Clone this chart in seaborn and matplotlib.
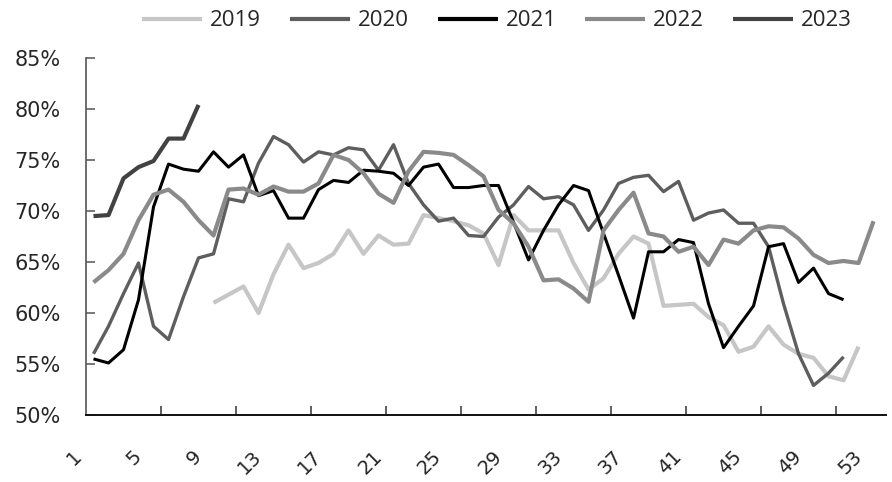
import numpy as np
import pandas as pd
import matplotlib.pyplot as plt
import matplotlib.transforms as mtransforms
import seaborn as sns


# weekly values, %
years = ['2019', '2020', '2021', '2022', '2023']
first_week = [9, 1, 1, 1, 1]

rate_2019 = [61.0, 61.8, 62.6, 60.0, 63.8, 66.7, 64.4, 64.9, 65.8, 68.1,
             65.8, 67.6, 66.7, 66.8, 69.6, 69.3, 69.0, 68.6, 67.8, 64.7,
             69.6, 68.1, 68.1, 68.1, 64.9, 62.3, 63.4, 65.8, 67.5, 66.8,
             60.7, 60.8, 60.9, 59.6, 58.8, 56.2, 56.7, 58.7, 56.9, 56.0,
             55.6, 53.8, 53.4, 56.7]
rate_2020 = [56.0, 58.7, 61.9, 64.9, 58.7, 57.4, 61.6, 65.4, 65.8, 71.2,
             70.9, 74.7, 77.3, 76.5, 74.8, 75.8, 75.5, 76.2, 76.0, 74.0,
             76.5, 72.7, 70.6, 69.0, 69.3, 67.6, 67.5, 69.4, 70.6, 72.4,
             71.2, 71.4, 70.6, 68.1, 70.1, 72.7, 73.3, 73.5, 71.9, 72.9,
             69.1, 69.8, 70.1, 68.8, 68.8, 66.5, 60.9, 56.0, 52.9, 54.1,
             55.7]
rate_2021 = [55.5, 55.1, 56.4, 61.3, 70.4, 74.6, 74.1, 73.9, 75.8, 74.3,
             75.5, 71.5, 72.0, 69.3, 69.3, 72.1, 73.0, 72.8, 74.0, 73.9,
             73.7, 72.5, 74.3, 74.6, 72.3, 72.3, 72.5, 72.5, 68.9, 65.2,
             68.1, 70.6, 72.5, 72.0, 67.8, 63.7, 59.5, 66.0, 66.0, 67.2,
             66.9, 60.9, 56.6, 58.7, 60.7, 66.5, 66.8, 63.0, 64.4, 61.9,
             61.3]
rate_2022 = [63.0, 64.2, 65.8, 69.1, 71.6, 72.1, 70.9, 69.1, 67.6, 72.1,
             72.2, 71.6, 72.4, 71.9, 71.9, 72.7, 75.5, 75.0, 73.7, 71.7,
             70.8, 73.9, 75.8, 75.7, 75.5, 74.5, 73.4, 70.1, 68.8, 66.5,
             63.2, 63.3, 62.4, 61.1, 68.1, 70.1, 71.8, 67.8, 67.5, 66.0,
             66.5, 64.7, 67.2, 66.8, 68.1, 68.5, 68.4, 67.3, 65.7, 64.9,
             65.1, 64.9, 69.0]
rate_2023 = [69.5, 69.6, 73.2, 74.3, 74.9, 77.1, 77.1, 80.4]

tick_weeks = list(range(1, 54, 4))
y_ticks = [50, 55, 60, 65, 70, 75, 80, 85]

series = [rate_2019, rate_2020, rate_2021, rate_2022, rate_2023]
colors = ['#c6c6c6', '#5e5e5e', '#000000', '#8a8a8a', '#424242']
widths = [3.0, 2.4, 2.2, 3.0, 3.0]

sns.set_style('white')
plt.rcParams['font.family'] = ['DejaVu Sans']

fig, ax = plt.subplots(figsize=(8.92, 4.82), dpi=100)
fig.subplots_adjust(left=86 / 892, right=886 / 892, top=1 - 58 / 482, bottom=1 - 415 / 482)

for yr, start, vals, c, w in zip(years, first_week, series, colors, widths):
    weeks = list(range(start, start + len(vals)))
    sns.lineplot(x=weeks, y=vals, color=c, lw=w, label=yr, ax=ax,
                 solid_joinstyle='round', solid_capstyle='butt')

ax.set_xlim(0.5, 53.83)
ax.set_ylim(50, 85)
ax.set_yticks(y_ticks)
ax.set_yticklabels([f'{v}%' for v in y_ticks])
ax.set_xticks(tick_weeks)
ax.set_xticklabels([str(t) for t in tick_weeks])
ax.set_xticks([5.5 + 5 * k for k in range(10)], minor=True)
ax.set_xlabel('')
ax.set_ylabel('')

for s in ['top', 'right']:
    ax.spines[s].set_visible(False)
ax.spines['left'].set_color('#555555')
ax.spines['bottom'].set_color('#111111')
ax.spines['left'].set_linewidth(1.2)
ax.spines['bottom'].set_linewidth(1.4)

ax.tick_params(axis='y', left=True, direction='in', length=6.5, width=1.1,
               color='#555555', pad=18, labelsize=15)
ax.tick_params(axis='x', which='major', bottom=True, length=0, pad=23, labelsize=14)
ax.tick_params(axis='x', which='minor', bottom=True, direction='in', length=6.5,
               width=1.1, color='#333333')

shift = mtransforms.ScaledTranslation(-8 / 100, 0, fig.dpi_scale_trans)
for lab in ax.get_xticklabels():
    lab.set_rotation(45)
    lab.set_ha('right')
    lab.set_va('top')
    lab.set_transform(lab.get_transform() + shift)

leg = ax.legend(loc='center', bbox_to_anchor=(497 / 892, 1 - 21 / 482),
                bbox_transform=fig.transFigure, ncol=5, frameon=False,
                prop={'family': 'Open Sans', 'size': 16},
                handlelength=2.7, handletextpad=0.35, columnspacing=1.3)
for line in leg.get_lines():
    line.set_linewidth(3.0)

fig.savefig('out.png', dpi=100)
